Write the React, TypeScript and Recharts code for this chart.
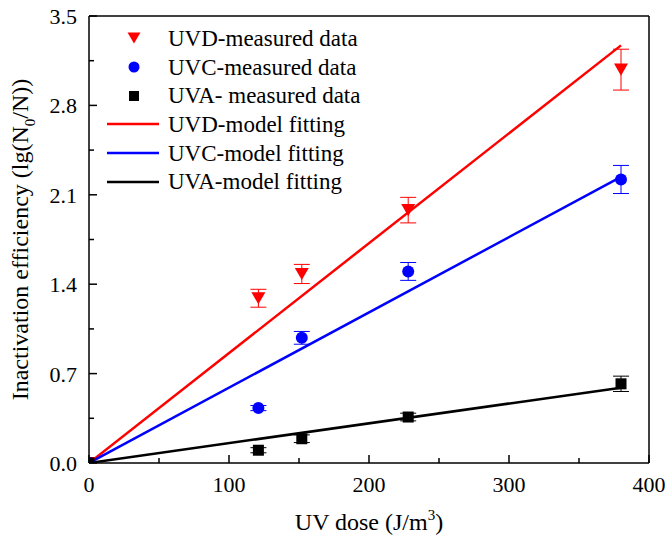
import {
  ComposedChart, Scatter, Line, XAxis, YAxis, ErrorBar, ReferenceLine, Legend, Label,
} from "recharts";

const FONT = '"Liberation Serif"';

// measured doses (J/m3)
const doses = [0, 121, 152, 228, 380];

const uvdMeasured = [0, 1.29, 1.48, 1.98, 3.08];
const uvdErr = [0, 0.07, 0.075, 0.1, 0.16];
const uvcMeasured = [0, 0.43, 0.98, 1.5, 2.22];
const uvcErr = [0, 0.02, 0.05, 0.07, 0.11];
const uvaMeasured = [0, 0.1, 0.19, 0.36, 0.62];
const uvaErr = [0, 0.02, 0.03, 0.03, 0.06];

// model fitting lines (start / end)
const fitDoses = [0, 380];
const uvdFit = [0, 3.27];
const uvcFit = [0, 2.24];
const uvaFit = [0, 0.59];

const xTicks = [0, 50, 100, 150, 200, 250, 300, 350, 400];
const yTicks = [0, 0.35, 0.7, 1.05, 1.4, 1.75, 2.1, 2.45, 2.8, 3.15, 3.5];

const pts = (xs: number[], ys: number[], errs?: number[]) =>
  xs.map((x, i) => ({ x, y: ys[i], err: errs ? errs[i] : 0 }));

const uvdData = pts(doses, uvdMeasured, uvdErr);
const uvcData = pts(doses, uvcMeasured, uvcErr);
const uvaData = pts(doses, uvaMeasured, uvaErr);

const triPath = (cx: number, cy: number, w: number) => {
  const h = w * 0.86;
  return `${cx - w / 2},${cy - h / 2} ${cx + w / 2},${cy - h / 2} ${cx},${cy + h / 2}`;
};

const DownTriangle = ({ cx, cy, fill }: any) => <polygon points={triPath(cx, cy, 14)} fill={fill} />;
const Dot = ({ cx, cy, fill }: any) => <circle cx={cx} cy={cy} r={6} fill={fill} />;
const Square = ({ cx, cy, fill }: any) => (
  <rect x={cx - 5.5} y={cy - 5.5} width={11} height={11} fill={fill} />
);

const XTick = ({ x, y, payload }: any) => {
  const major = payload.value % 100 === 0;
  return (
    <g>
      <line x1={x} x2={x} y1={y} y2={y - (major ? 8 : 5)} stroke="#000" strokeWidth={1.5} />
      {major && (
        <text x={x} y={y + 29} textAnchor="middle" fontFamily={FONT} fontSize={22} fill="#000">
          {payload.value}
        </text>
      )}
    </g>
  );
};

const YTick = ({ x, y, payload, index }: any) => {
  const major = index % 2 === 0;
  return (
    <g>
      <line x1={x} x2={x + (major ? 8 : 5)} y1={y} y2={y} stroke="#000" strokeWidth={1.5} />
      {major && (
        <text x={x - 12} y={y + 8} textAnchor="end" fontFamily={FONT} fontSize={22} fill="#000">
          {payload.value.toFixed(1)}
        </text>
      )}
    </g>
  );
};

const XTitle = ({ viewBox }: any) => (
  <text x={viewBox.x + viewBox.width / 2} y={viewBox.y + 67} textAnchor="middle"
    fontFamily={FONT} fontSize={24} fill="#000">
    UV dose (J/m<tspan dy={-10} fontSize={15}>3</tspan><tspan dy={10}>)</tspan>
  </text>
);

const YTitle = ({ viewBox }: any) => {
  const cx = viewBox.x + 28;
  const cy = viewBox.y + viewBox.height / 2;
  return (
    <text x={cx} y={cy} textAnchor="middle" transform={`rotate(-90 ${cx} ${cy})`}
      fontFamily={FONT} fontSize={24} fill="#000">
      Inactivation efficiency (lg(N<tspan dy={7} fontSize={15}>0</tspan><tspan dy={-7}>/N))</tspan>
    </text>
  );
};

const legendItems = [
  { label: "UVD-measured data", kind: "tri", color: "#ff0000" },
  { label: "UVC-measured data", kind: "dot", color: "#0000ff" },
  { label: "UVA- measured data", kind: "sq", color: "#000000" },
  { label: "UVD-model fitting", kind: "line", color: "#ff0000" },
  { label: "UVC-model fitting", kind: "line", color: "#0000ff" },
  { label: "UVA-model fitting", kind: "line", color: "#000000" },
];

const renderLegend = () => (
  <div style={{ fontFamily: FONT, fontSize: 23, color: "#000", lineHeight: 1 }}>
    {legendItems.map((it) => (
      <div key={it.label} style={{ display: "flex", alignItems: "center", height: 28.7 }}>
        <svg width={60} height={20} style={{ marginRight: 7, flexShrink: 0 }}>
          {it.kind === "tri" && <polygon points={triPath(33, 10, 13)} fill={it.color} />}
          {it.kind === "dot" && <circle cx={33} cy={10} r={5.5} fill={it.color} />}
          {it.kind === "sq" && <rect x={28} y={5} width={10} height={10} fill={it.color} />}
          {it.kind === "line" && <line x1={6} x2={58} y1={10} y2={10} stroke={it.color} strokeWidth={2.5} />}
        </svg>
        <span style={{ whiteSpace: "nowrap" }}>{it.label}</span>
      </div>
    ))}
  </div>
);

export default function App() {
  return (
    <div style={{ position: "absolute", left: 0, top: 0 }}>
      <ComposedChart width={667} height={545} margin={{ top: 16, right: 18, left: 0, bottom: 0 }}>
        <XAxis dataKey="x" type="number" domain={[0, 400]} ticks={xTicks} interval={0}
          height={82} tickSize={0} tickMargin={0} tickLine={false} tick={<XTick />}
          axisLine={{ stroke: "#000", strokeWidth: 1.5 }} allowDataOverflow>
          <Label content={<XTitle />} />
        </XAxis>
        <YAxis type="number" domain={[0, 3.5]} ticks={yTicks} interval={0}
          width={89} tickSize={0} tickMargin={0} tickLine={false} tick={<YTick />}
          axisLine={{ stroke: "#000", strokeWidth: 1.5 }} allowDataOverflow>
          <Label content={<YTitle />} />
        </YAxis>
        <ReferenceLine y={3.5} stroke="#000" strokeWidth={1.5} />
        <ReferenceLine x={400} stroke="#000" strokeWidth={1.5} />
        <Legend layout="horizontal" verticalAlign="middle" align="center"
          wrapperStyle={{ left: 101, top: 24, width: 320 }} content={renderLegend} />

        <Scatter name="UVD-measured data" data={uvdData} dataKey="y" fill="#ff0000"
          shape={<DownTriangle />} isAnimationActive={false}>
          <ErrorBar dataKey="err" direction="y" width={8} stroke="#ff0000" strokeWidth={1} />
        </Scatter>
        <Scatter name="UVC-measured data" data={uvcData} dataKey="y" fill="#0000ff"
          shape={<Dot />} isAnimationActive={false}>
          <ErrorBar dataKey="err" direction="y" width={8} stroke="#0000ff" strokeWidth={1} />
        </Scatter>
        <Scatter name="UVA- measured data" data={uvaData} dataKey="y" fill="#000000"
          shape={<Square />} isAnimationActive={false}>
          <ErrorBar dataKey="err" direction="y" width={8} stroke="#000000" strokeWidth={1} />
        </Scatter>

        <Line data={pts(fitDoses, uvdFit)} dataKey="y" stroke="#ff0000" strokeWidth={2.5}
          dot={false} type="linear" isAnimationActive={false} />
        <Line data={pts(fitDoses, uvcFit)} dataKey="y" stroke="#0000ff" strokeWidth={2.5}
          dot={false} type="linear" isAnimationActive={false} />
        <Line data={pts(fitDoses, uvaFit)} dataKey="y" stroke="#000000" strokeWidth={2.5}
          dot={false} type="linear" isAnimationActive={false} />
      </ComposedChart>
    </div>
  );
}
